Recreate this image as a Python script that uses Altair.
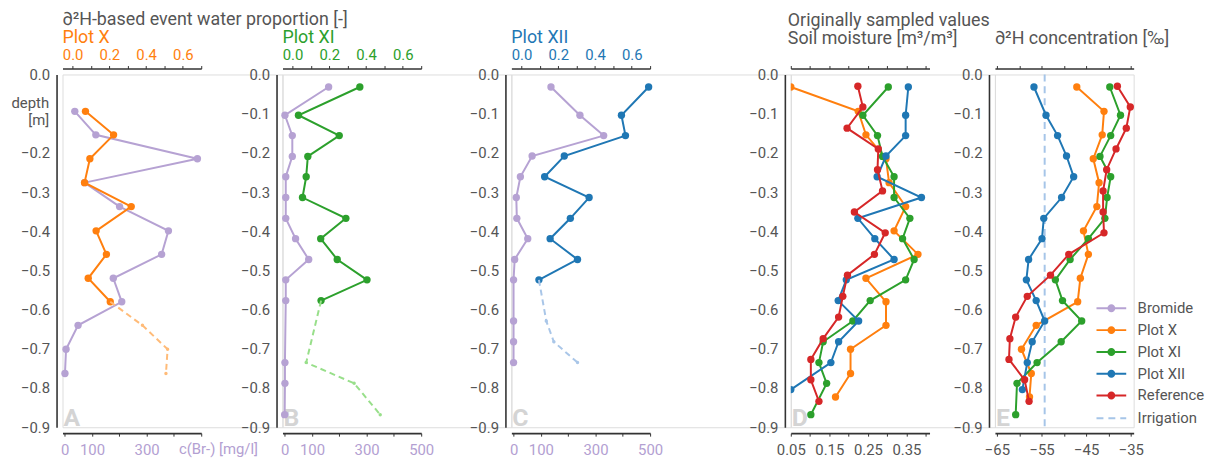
import altair as alt
import pandas as pd

# ------------------------------------------------------------------ data
# sampling depths [m] of each profile
DEPTH_X = [-0.032, -0.094, -0.154, -0.215, -0.276, -0.337, -0.399, -0.459, -0.520, -0.580, -0.640, -0.701, -0.763, -0.823]
DEPTH_XI = [-0.032, -0.104, -0.156, -0.209, -0.261, -0.314, -0.367, -0.419, -0.472, -0.524, -0.577, -0.629, -0.682, -0.735, -0.788, -0.868]
DEPTH_XII = [-0.032, -0.104, -0.156, -0.208, -0.261, -0.314, -0.367, -0.419, -0.472, -0.524, -0.577, -0.629, -0.682, -0.735, -0.804]
DEPTH_REF = [-0.030, -0.083, -0.137, -0.190, -0.243, -0.297, -0.351, -0.404, -0.459, -0.512, -0.566, -0.619, -0.674, -0.727, -0.779, -0.834]

# bromide concentration c(Br-) [mg/l]
BR_A_DEPTH = [-0.094, -0.154, -0.215, -0.276, -0.337, -0.399, -0.459, -0.520, -0.580, -0.640, -0.701, -0.763]
BR_A = [37, 114, 486, 73, 201, 380, 355, 178, 209, 49, 5, 1]
BR_B_DEPTH = [-0.032, -0.104, -0.156, -0.209, -0.261, -0.314, -0.367, -0.419, -0.472, -0.524, -0.577, -0.735, -0.788, -0.868]
BR_B = [161, 1, 28, 28, 4, 4, 4, 40, 88, 4, 4, 1, 1, 0]
BR_C_DEPTH = [-0.032, -0.104, -0.156, -0.208, -0.261, -0.314, -0.367, -0.419, -0.472, -0.524, -0.629, -0.682, -0.735]
BR_C = [137, 243, 330, 68, 25, 10, 12, 52, 4, 0, 0, 0, 0]

# event water proportion [-]
PROP_X_DEPTH = [-0.094, -0.154, -0.215, -0.276, -0.337, -0.399, -0.459, -0.520, -0.580]
PROP_X = [0.070, 0.223, 0.094, 0.065, 0.319, 0.128, 0.184, 0.085, 0.205]
EXT_X_DEPTH = [-0.640, -0.701, -0.763]
EXT_X = [0.380, 0.517, 0.508]
PROP_XI_DEPTH = [-0.032, -0.104, -0.156, -0.209, -0.261, -0.314, -0.367, -0.419, -0.472, -0.524, -0.577]
PROP_XI = [0.366, 0.032, 0.254, 0.083, 0.074, 0.054, 0.290, 0.153, 0.243, 0.405, 0.155]
EXT_XI_DEPTH = [-0.735, -0.788, -0.868]
EXT_XI = [0.074, 0.335, 0.477]
PROP_XII_DEPTH = [-0.032, -0.104, -0.156, -0.208, -0.261, -0.314, -0.367, -0.419, -0.472, -0.524]
PROP_XII = [0.692, 0.544, 0.566, 0.233, 0.126, 0.368, 0.266, 0.156, 0.305, 0.095]
EXT_XII_DEPTH = [-0.629, -0.682, -0.735]
EXT_XII = [0.135, 0.176, 0.305]

# soil moisture [m3/m3]
SM_X = [0.05, 0.225, 0.245, 0.297, 0.305, 0.348, 0.318, 0.380, 0.245, 0.297, 0.297, 0.205, 0.205, 0.166]
SM_XI = [0.303, 0.237, 0.275, 0.288, 0.318, 0.318, 0.359, 0.340, 0.370, 0.348, 0.256, 0.211, 0.134, 0.123, 0.143, 0.102]
SM_XII = [0.355, 0.348, 0.348, 0.297, 0.274, 0.389, 0.224, 0.268, 0.318, 0.194, 0.173, 0.226, 0.174, 0.154, 0.05]
SM_REF = [0.224, 0.237, 0.196, 0.277, 0.275, 0.288, 0.215, 0.295, 0.267, 0.197, 0.185, 0.174, 0.134, 0.102, 0.102, 0.123]

# d2H concentration [permil]
D2H_X = [-47.1, -41.0, -41.4, -43.4, -42.1, -42.6, -45.6, -44.5, -46.3, -46.9, -56.2, -59.5, -57.3, -57.7]
D2H_XI = [-39.7, -37.3, -39.5, -41.9, -39.5, -40.3, -40.8, -44.5, -48.6, -51.9, -50.3, -46.0, -50.6, -56.0, -60.5, -60.8]
D2H_XII = [-56.7, -54.0, -51.4, -49.4, -47.8, -50.5, -54.5, -54.9, -57.9, -58.4, -56.2, -54.3, -57.1, -58.2, -59.3]
D2H_REF = [-38.0, -35.1, -36.0, -38.3, -40.4, -41.2, -41.2, -41.0, -48.9, -53.0, -58.2, -60.8, -62.1, -62.3, -58.8, -57.8]
IRRIGATION = [-54.3]

SERIES = ["Bromide", "Plot X", "Plot XI", "Plot XII", "Reference"]

# ------------------------------------------------------------------ style
COLORS = ["#b6a2d3", "#ff7f0e", "#2ca02c", "#1f77b4", "#d62728"]
C = dict(zip(SERIES, COLORS))
LIGHT = {"Plot X": "#ffbb78", "Plot XI": "#98df8a", "Plot XII": "#a9c6e8"}
IRR_COLOR = "#a6c5e8"
GREY = "#555555"
LINE = "#333333"
LAV_TXT = "#b3a0d2"
LETTER = "#d4d4d4"
FONT = "Roboto"

W = 140
H = 356
SPANS = [222, 231, 282, 206, 140]
PROP_DOMAIN = [-0.055, 0.70]
CONC_DOMAIN = [-8, 500]
SM_DOMAIN = [0.05, 0.41]
D2H_DOMAIN = [-65.45, -34.35]

COLOR_SCALE = alt.Scale(domain=SERIES, range=COLORS)
SYM_PATH = "M-3.75,-0.25H3.75V0.25H-3.75Z M1,0A1,1,0,1,1,-1,0A1,1,0,1,1,1,0Z"
COLOR_LEGEND = alt.Legend(
    title=None, orient="none", legendX=1051, legendY=228.5, direction="vertical",
    symbolType=SYM_PATH, symbolSize=64, symbolStrokeWidth=0, symbolOpacity=1,
    labelFont=FONT, labelFontSize=15, labelColor=GREY, labelOffset=19,
    rowPadding=6, padding=0,
)
IRR_LEGEND = alt.Legend(
    title=None, orient="none", legendX=1051, legendY=339.5,
    symbolType="M-3.75,0H3.75", symbolSize=64, symbolStrokeWidth=2,
    symbolStrokeColor=IRR_COLOR, symbolOpacity=1,
    labelFont=FONT, labelFontSize=15, labelColor=GREY, labelOffset=19, padding=0,
)


def frame(depths, values, series):
    return pd.DataFrame({"depth": depths, "value": values, "series": series,
                         "i": list(range(len(depths)))})


def y_enc(field="depth", title=None):
    kw = dict(values=[0.0, -0.1, -0.2, -0.3, -0.4, -0.5, -0.6, -0.7, -0.8, -0.9],
              format=".1f", offset=6, ticks=False, tickSize=0, labelPadding=7,
              domainColor=LINE, domainWidth=1.6, labelFontSize=15, labelColor=GREY,
              labelFont=FONT, labelFlush=False, labelOverlap=False, grid=False)
    if title:
        kw.update(title=title, titleAngle=0, titleX=-8, titleY=33, titleAlign="right",
                  titleBaseline="alphabetic", titleLineHeight=17, titleFontSize=15,
                  titleFontWeight="normal", titleColor=GREY, titleFont=FONT,
                  labelExpr="round(datum.value * 10) == -1 ? '' : datum.label")
    else:
        kw.update(title=None)
    return alt.Y(f"{field}:Q", scale=alt.Scale(domain=[-0.9, 0.0], nice=False, zero=False),
                 axis=alt.Axis(**kw))


def axis(orient, values, fmt=None, color=GREY, labels=True, **extra):
    kw = dict(orient=orient, values=values, offset=6, tickSize=3, tickColor=LINE, tickWidth=1,
              domainColor=LINE, domainWidth=1.6, labelFontSize=15, labelFont=FONT,
              labelColor=color, labelFlush=False, labelOverlap=False, grid=False,
              labels=labels, labelPadding=3 if orient == "top" else 6.5)
    if fmt:
        kw["format"] = fmt
    kw.update(extra)
    if "title" not in kw:
        kw["title"] = None
    return alt.Axis(**kw)


def x_enc(domain, ax):
    return alt.X("value:Q", scale=alt.Scale(domain=domain, range=[0, W], nice=False, zero=False),
                 axis=ax)


def prop_axis(color):
    return axis("top", [0, 0.1, 0.2, 0.3, 0.4, 0.5, 0.6, 0.7], fmt=".1f", color=color,
                labelExpr="indexof([0, 2, 4, 6], round(datum.value * 10)) >= 0 ? datum.label : ''")


def conc_axis(keep, **extra):
    return axis("bottom", [0, 100, 200, 300, 400, 500], fmt="d", color=LAV_TXT,
                labelExpr=f"indexof({keep}, datum.value) >= 0 ? datum.label : ''", **extra)


def series(df, color, X, Y, clip=False):
    line = alt.Chart(df).mark_line(color=color, strokeWidth=2, clip=clip).encode(
        x=X, y=Y, order=alt.Order("i:Q"))
    pts = alt.Chart(df).mark_circle(size=55, opacity=1, clip=clip).encode(
        x=X, y=Y, color=alt.Color("series:N", scale=COLOR_SCALE, legend=COLOR_LEGEND))
    return [line, pts]


def extension(last_depth, last_value, depths, values, color, X, Y):
    line_df = frame([last_depth] + depths, [last_value] + values, "ext")
    dot_df = frame(depths, values, "ext")
    line = alt.Chart(line_df).mark_line(color=color, strokeWidth=2, strokeDash=[6, 4]).encode(
        x=X, y=Y, order=alt.Order("i:Q"))
    dots = alt.Chart(dot_df).mark_circle(size=12, opacity=1, color=color).encode(x=X, y=Y)
    return [line, dots]


def letter(ch, domain, X, Y):
    df = pd.DataFrame({"value": [domain[0]], "depth": [-0.9]})
    return alt.Chart(df).mark_text(text=ch, align="left", baseline="alphabetic", dx=1, dy=-1,
                                   fontSize=25, fontWeight="bold", color=LETTER, font=FONT).encode(x=X, y=Y)


def title(text, color, subtitle=None, subcolor=None, offset=1, dx=0):
    kw = dict(text=text, anchor="start", frame="group", orient="top", font=FONT, fontSize=18,
              fontWeight="normal", color=color, offset=offset)
    if dx:
        kw["dx"] = dx
    if subtitle:
        kw.update(subtitle=subtitle, subtitleFont=FONT, subtitleFontSize=18,
                  subtitleColor=subcolor, subtitlePadding=0, subtitleFontWeight="normal")
    return alt.TitleParams(**kw)


def prop_panel(ch, br_depth, br, name, p_depth, p, e_depth, e, span, ttl, keep, bottom_title=None):
    Y = y_enc(title=["depth", "[m]"] if ch == "A" else None)
    extra = {}
    if bottom_title:
        extra = dict(title=bottom_title, titleX=117, titleY=21, titleAlign="left",
                     titleBaseline="alphabetic", titleAngle=0, titleFontSize=15, titleFont=FONT,
                     titleFontWeight="normal", titleColor=LAV_TXT)
    Xb = x_enc(CONC_DOMAIN, conc_axis(keep, **extra))
    Xt = x_enc(PROP_DOMAIN, prop_axis(C[name]))
    bottom = [letter(ch, CONC_DOMAIN, Xb, Y)] + series(frame(br_depth, br, "Bromide"), C["Bromide"], Xb, Y)
    top = series(frame(p_depth, p, name), C[name], Xt, Y) + \
        extension(p_depth[-1], p[-1], e_depth, e, LIGHT[name], Xt, Y)
    return alt.layer(alt.layer(*bottom), alt.layer(*top)).resolve_scale(x="independent").properties(
        width=span, height=H, title=ttl)


pA = prop_panel("A", BR_A_DEPTH, BR_A, "Plot X", PROP_X_DEPTH, PROP_X, EXT_X_DEPTH, EXT_X, SPANS[0],
                title("∂²H-based event water proportion [-]", GREY, "Plot X", C["Plot X"]),
                [0, 100, 300], bottom_title="c(Br-) [mg/l]")
pB = prop_panel("B", BR_B_DEPTH, BR_B, "Plot XI", PROP_XI_DEPTH, PROP_XI, EXT_XI_DEPTH, EXT_XI, SPANS[1],
                title("Plot XI", C["Plot XI"]), [0, 100, 300, 500])
pC = prop_panel("C", BR_C_DEPTH, BR_C, "Plot XII", PROP_XII_DEPTH, PROP_XII, EXT_XII_DEPTH, EXT_XII, SPANS[2],
                title("Plot XII", C["Plot XII"]), [0, 100, 300, 500])

# ---- panel D: soil moisture
YD = y_enc()
sm_ticks = [0.05, 0.1, 0.15, 0.2, 0.25, 0.3, 0.35, 0.4]
XDb = x_enc(SM_DOMAIN, axis("bottom", sm_ticks, fmt=".2f",
                            labelExpr="indexof([5, 15, 25, 35], round(datum.value * 100)) >= 0 ? datum.label : ''"))
XDt = x_enc(SM_DOMAIN, axis("top", sm_ticks, labels=False))
d_bottom = [letter("D", SM_DOMAIN, XDb, YD)]
for dep, val, nm in [(DEPTH_X, SM_X, "Plot X"), (DEPTH_XI, SM_XI, "Plot XI"),
                     (DEPTH_XII, SM_XII, "Plot XII"), (DEPTH_REF, SM_REF, "Reference")]:
    d_bottom += series(frame(dep, val, nm), C[nm], XDb, YD, clip=True)
d_top = [alt.Chart(frame(DEPTH_REF, SM_REF, "Reference")).mark_point(opacity=0).encode(x=XDt, y=YD)]
pD = alt.layer(alt.layer(*d_bottom), alt.layer(*d_top)).resolve_scale(x="independent").properties(
    width=SPANS[3], height=H,
    title=title("Originally sampled values", GREY, "Soil moisture [m³/m³]", GREY, offset=17.5, dx=-3))

# ---- panel E: d2H
YE = y_enc()
d2_vals = [-65, -60, -55, -50, -45, -40, -35]
XEb = x_enc(D2H_DOMAIN, axis("bottom", d2_vals, fmt="d",
                             labelExpr="indexof([-65, -55, -45, -35], datum.value) >= 0 ? datum.label : ''"))
XEt = x_enc(D2H_DOMAIN, axis("top", d2_vals, labels=False))
irr_df = pd.DataFrame({"value": IRRIGATION, "top": [0.0], "bottom": [-0.9], "kind": ["Irrigation"]})
irr = alt.Chart(irr_df).mark_rule(color=IRR_COLOR, strokeWidth=2).encode(
    x=XEb, y=y_enc("top"), y2="bottom:Q",
    strokeDash=alt.StrokeDash("kind:N", scale=alt.Scale(domain=["Irrigation"], range=[[7, 5]]),
                              legend=IRR_LEGEND))
e_bottom = [letter("E", D2H_DOMAIN, XEb, YE), irr]
for dep, val, nm in [(DEPTH_X, D2H_X, "Plot X"), (DEPTH_XI, D2H_XI, "Plot XI"),
                     (DEPTH_XII, D2H_XII, "Plot XII"), (DEPTH_REF, D2H_REF, "Reference")]:
    e_bottom += series(frame(dep, val, nm), C[nm], XEb, YE)
e_top = [alt.Chart(frame(DEPTH_REF, D2H_REF, "Reference")).mark_point(opacity=0).encode(x=XEt, y=YE)]
pE = alt.layer(alt.layer(*e_bottom), alt.layer(*e_top)).resolve_scale(x="independent").properties(
    width=SPANS[4], height=H, title=title("∂²H concentration [‰]", GREY, offset=17.5))

chart = alt.hconcat(pA, pB, pC, pD, pE, spacing=0, bounds="flush").properties(
    padding={"left": 2, "top": 0, "right": 0, "bottom": 0},
).configure_view(stroke=None).configure(font=FONT)

chart.save("out.html", embed_options={"renderer": "svg", "actions": False})
